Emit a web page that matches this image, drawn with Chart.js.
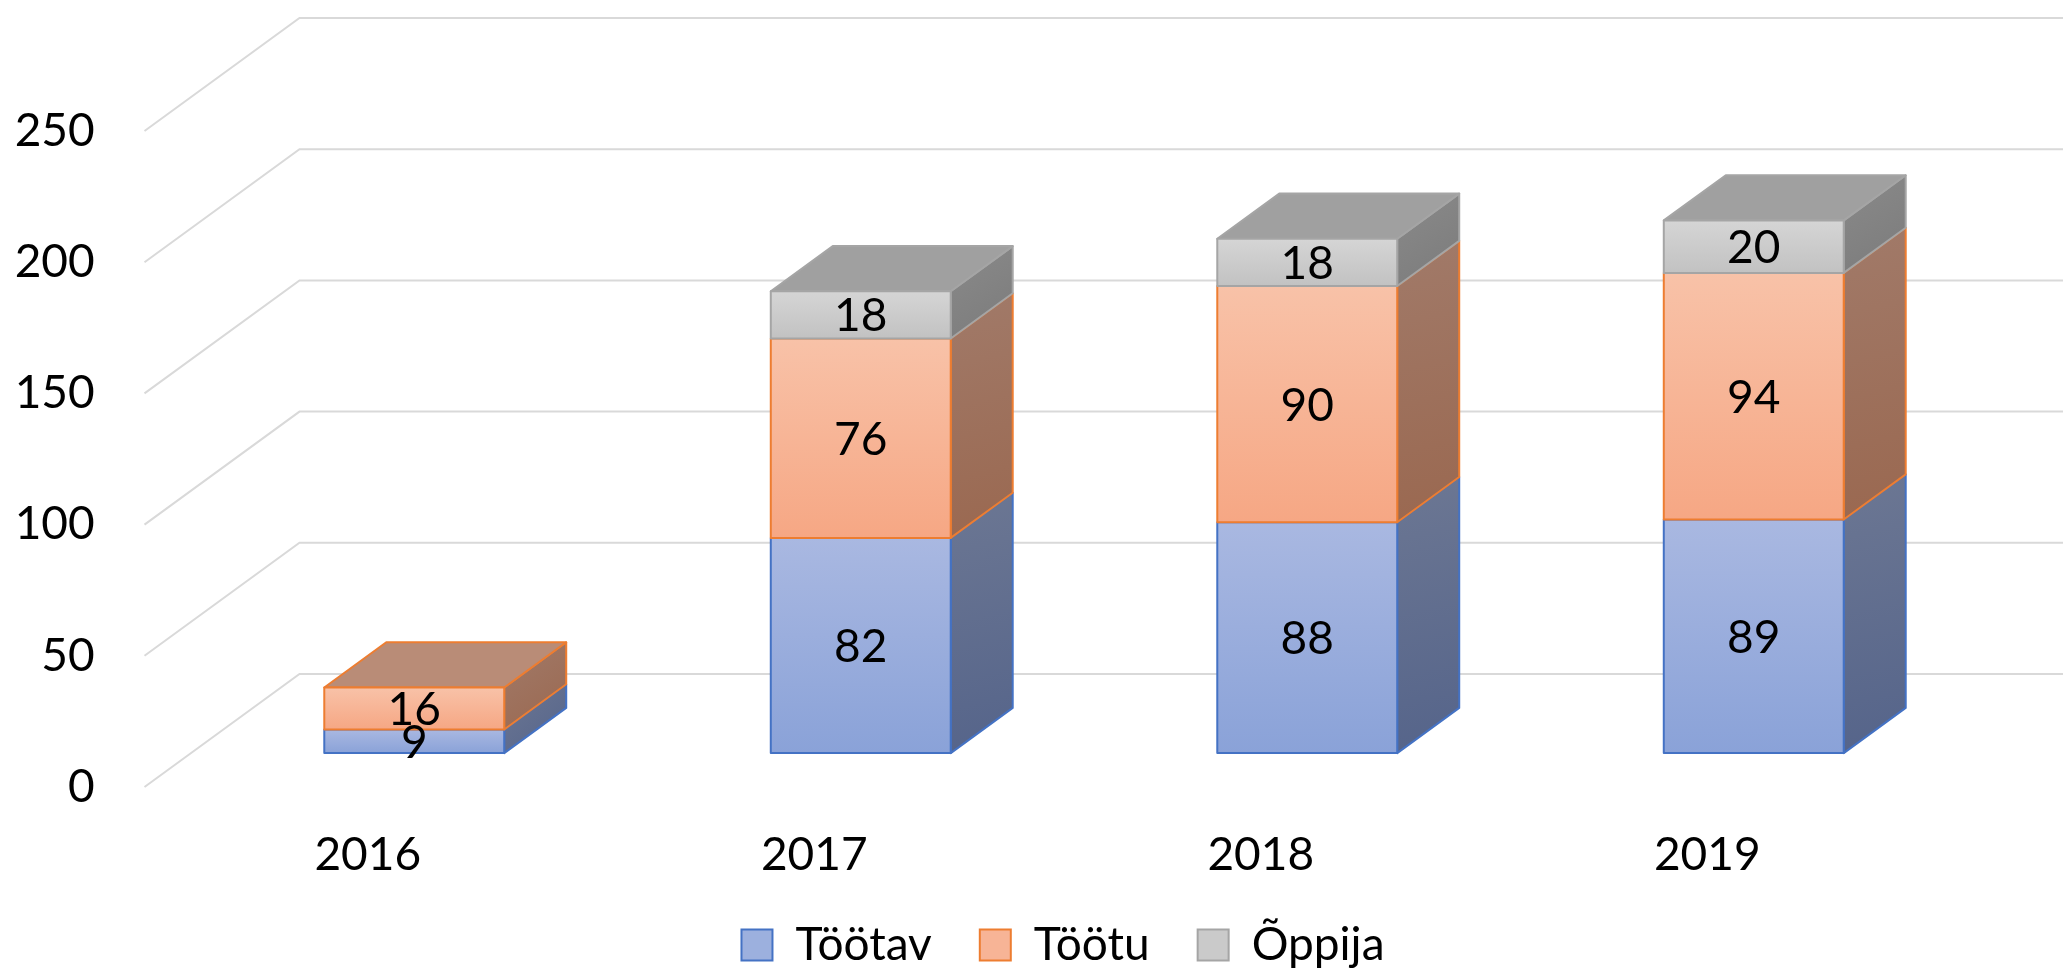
<!DOCTYPE html>
<html>
<head>
<meta charset="utf-8">
<script src="https://cdn.jsdelivr.net/npm/chart.js@4.4.1/dist/chart.umd.min.js"></script>
<style>
html,body{margin:0;padding:0;background:#fff;}
#wrap{width:2063px;height:970px;position:relative;}
</style>
</head>
<body>
<div id="wrap"><canvas id="c"></canvas></div>
<script>
// ---- data ----
const years = ['2016', '2017', '2018', '2019'];
const seriesNames = ['Töötav', 'Töötu', 'Õppija'];
const tootav = [9, 82, 88, 89];
const tootu = [16, 76, 90, 94];
const oppija = [0, 18, 18, 20];
const yMin = 0, yMax = 250, yStep = 50;

// ---- styles ----
const FONT = 'Lato';
const FS = 46;
const DEPTH_X = 155, DEPTH_Y = -113;   // floor depth projection
const BAR_FRONT = 0.30, BAR_DEPTH = 0.40;
const styles = [
  {border:'#4472c4', frontTop:'#a9b8e1', frontBot:'#8aa2d8', sideTop:'#6c7793', sideBot:'#55648a', top:'#8494bd', legend:'#9cb0de'},
  {border:'#ed7d31', frontTop:'#f8c2a8', frontBot:'#f6a784', sideTop:'#a17a69', sideBot:'#9a6850', top:'#b98c77', legend:'#f7b496'},
  {border:'#a5a5a5', frontTop:'#d5d5d5', frontBot:'#c2c2c2', sideTop:'#8a8a8a', sideBot:'#7b7b7b', top:'#a0a0a0', legend:'#cacaca'}
];

const threeD = {
  id: 'threeD',
  beforeDatasetsDraw(chart) {
    const ctx = chart.ctx, area = chart.chartArea, ys = chart.scales.y;
    ctx.save();
    // 3D gridlines (side wall + back wall)
    ctx.strokeStyle = '#d9d9d9';
    ctx.lineWidth = 2;
    ys.ticks.forEach(t => {
      const py = ys.getPixelForValue(t.value);
      ctx.beginPath();
      ctx.moveTo(area.left, py);
      ctx.lineTo(area.left + DEPTH_X, py + DEPTH_Y);
      ctx.lineTo(chart.width, py + DEPTH_Y);
      ctx.stroke();
    });
    // bars
    const ox = DEPTH_X * BAR_FRONT, oy = DEPTH_Y * BAR_FRONT;
    const dx = DEPTH_X * BAR_DEPTH, dy = DEPTH_Y * BAR_DEPTH;
    const labels = [];
    const nCat = chart.data.labels.length;
    for (let j = 0; j < nCat; j++) {
      let topIdx = -1;
      chart.data.datasets.forEach((ds, i) => { if (ds.data[j]) topIdx = i; });
      chart.data.datasets.forEach((ds, i) => {
        const v = ds.data[j];
        if (!v) return;
        const el = chart.getDatasetMeta(i).data[j];
        const st = styles[i];
        const x0 = el.x - el.width / 2 + ox, x1 = el.x + el.width / 2 + ox;
        const yT = Math.min(el.y, el.base) + oy, yB = Math.max(el.y, el.base) + oy;
        ctx.lineWidth = 2;
        ctx.lineJoin = 'round';
        ctx.strokeStyle = st.border;
        // side face
        let g = ctx.createLinearGradient(x1, yT + dy, x1 + dx, yB);
        g.addColorStop(0, st.sideTop); g.addColorStop(1, st.sideBot);
        ctx.fillStyle = g;
        ctx.beginPath();
        ctx.moveTo(x1, yT); ctx.lineTo(x1 + dx, yT + dy); ctx.lineTo(x1 + dx, yB + dy); ctx.lineTo(x1, yB);
        ctx.closePath(); ctx.fill(); ctx.stroke();
        // top face
        if (i === topIdx) {
          ctx.fillStyle = st.top;
          ctx.beginPath();
          ctx.moveTo(x0, yT); ctx.lineTo(x1, yT); ctx.lineTo(x1 + dx, yT + dy); ctx.lineTo(x0 + dx, yT + dy);
          ctx.closePath(); ctx.fill(); ctx.stroke();
        }
        // front face
        g = ctx.createLinearGradient(0, yT, 0, yB);
        g.addColorStop(0, st.frontTop); g.addColorStop(1, st.frontBot);
        ctx.fillStyle = g;
        ctx.beginPath();
        ctx.rect(x0, yT, x1 - x0, yB - yT);
        ctx.fill(); ctx.stroke();
        labels.push({text: String(v), x: (x0 + x1) / 2, y: (yT + yB) / 2});
      });
    }
    // data labels
    ctx.fillStyle = '#000';
    ctx.font = FS + 'px ' + FONT;
    ctx.textAlign = 'center';
    ctx.textBaseline = 'alphabetic';
    labels.forEach(l => ctx.fillText(l.text, l.x, l.y + FS * 0.36));
    ctx.restore();
    return false;
  }
};

const dataSeries = [tootav, tootu, oppija];

new Chart(document.getElementById('c'), {
  type: 'bar',
  data: {
    labels: years,
    datasets: seriesNames.map((n, i) => ({
      label: n,
      data: dataSeries[i],
      backgroundColor: styles[i].legend,
      borderColor: styles[i].border,
      borderWidth: 2
    }))
  },
  options: {
    responsive: true,
    maintainAspectRatio: false,
    animation: false,
    devicePixelRatio: 1,
    barPercentage: 0.403,
    categoryPercentage: 1,
    layout: { padding: { left: 0, right: -63, top: 131, bottom: -8 } },
    scales: {
      x: {
        stacked: true,
        grid: { display: false, drawTicks: false },
        border: { display: false },
        ticks: { font: { family: FONT, size: FS }, color: '#000', padding: 40.4, maxRotation: 0, autoSkip: false },
        afterFit(s) { s.height = 87; }
      },
      y: {
        stacked: true,
        min: yMin, max: yMax,
        grid: { display: false, drawTicks: false },
        border: { display: false },
        ticks: { stepSize: yStep, font: { family: FONT, size: FS }, color: '#000', padding: 49.8, callback: v => String(v) },
        afterFit(s) { s.width = 144.5; }
      },
      y2: {
        position: 'right',
        display: true,
        min: 0, max: 1,
        grid: { display: false, drawTicks: false },
        border: { display: false },
        ticks: { display: false },
        afterFit(s) { s.width = 195.5; }
      }
    },
    plugins: {
      tooltip: { enabled: false },
      legend: {
        position: 'bottom',
        labels: {
          font: { family: FONT, size: FS },
          color: '#000',
          boxWidth: 31,
          boxHeight: 31,
          padding: 48
        }
      }
    }
  },
  plugins: [threeD]
});
</script>
</body>
</html>
